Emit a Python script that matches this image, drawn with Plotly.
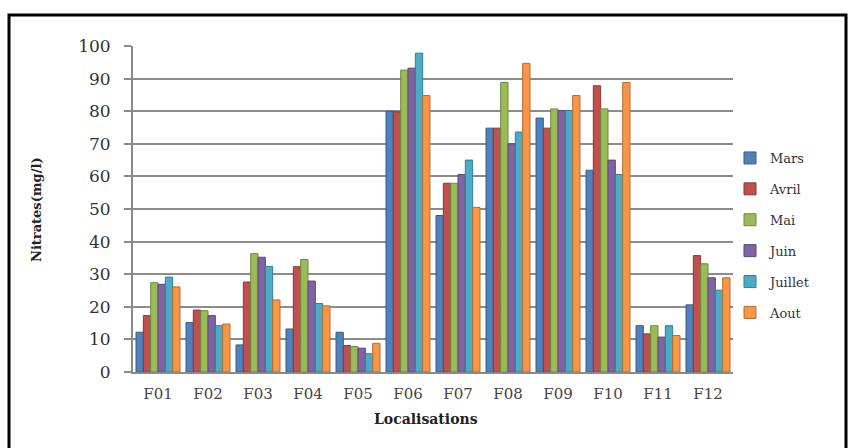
import plotly.graph_objects as go

# Nitrate concentration (mg/l) by sampling site and month
sites = ["F01", "F02", "F03", "F04", "F05", "F06", "F07", "F08", "F09", "F10", "F11", "F12"]

mars    = [12.2, 15.2, 8.3, 13.2, 12.2, 80.0, 48.0, 74.8, 77.9, 61.9, 14.2, 20.6]
avril   = [17.3, 19.0, 27.6, 32.3, 8.1, 79.8, 57.9, 74.8, 74.8, 87.8, 11.7, 35.7]
mai     = [27.4, 18.8, 36.3, 34.5, 7.8, 92.6, 57.9, 88.8, 80.7, 80.7, 14.2, 33.2]
juin    = [26.9, 17.3, 35.2, 27.9, 7.3, 93.2, 60.6, 70.0, 80.2, 65.0, 10.7, 28.9]
juillet = [29.1, 14.2, 32.4, 21.0, 5.6, 97.8, 65.0, 73.6, 80.2, 60.6, 14.2, 25.1]
aout    = [26.1, 14.7, 22.1, 20.3, 8.8, 84.8, 50.5, 94.7, 84.8, 88.8, 11.2, 28.9]

months = ["Mars", "Avril", "Mai", "Juin", "Juillet", "Aout"]
series = [mars, avril, mai, juin, juillet, aout]
fills = ["#4F81BD", "#C0504D", "#9BBB59", "#8064A2", "#4BACC6", "#F79646"]
edges = ["#385D8A", "#8C3836", "#71893F", "#5C4776", "#357D91", "#B66D31"]

serif = "DejaVu Serif"

fig = go.Figure()
for name, vals, fc, ec in zip(months, series, fills, edges):
    fig.add_trace(go.Bar(
        x=sites, y=vals, name=name,
        legendgroup=name,
        marker=dict(color=fc, line=dict(color=ec, width=1)),
    ))

# plot area: x 133..733 px, y 46..372 px
L, R, T, B = 133, 733, 46, 372
W, H = 848, 448


def px_x(p):
    return (p - L) / (R - L)


def px_y(p):
    return (B - p) / (B - T)


fig.update_layout(
    width=W, height=H,
    margin=dict(l=L, r=W - R, t=T, b=H - B, pad=0),
    paper_bgcolor="white",
    plot_bgcolor="white",
    barmode="group",
    bargap=0.12,
    bargroupgap=0,
    showlegend=True,
    legend=dict(
        x=px_x(730), y=px_y(143), xanchor="left", yanchor="top",
        font=dict(family=serif, size=13, color="#333333"),
        traceorder="grouped", tracegroupgap=11,
        itemwidth=30, bgcolor="rgba(0,0,0,0)",
    ),
    xaxis=dict(
        showgrid=False, showline=True, linecolor="#8a8a8a", linewidth=2,
        ticks="", tickfont=dict(family=serif, size=15, color="#444444"),
        ticklabelstandoff=7,
    ),
    yaxis=dict(
        range=[0, 100], dtick=10, showgrid=True, gridcolor="#8c8c8c", gridwidth=2,
        showline=True, linecolor="#8a8a8a", linewidth=2,
        ticks="outside", ticklen=7, tickcolor="#8a8a8a", tickwidth=1.5,
        tickfont=dict(family=serif, size=17, color="#333333"),
        ticklabelstandoff=10, zeroline=False,
    ),
    annotations=[
        dict(text="<b>Localisations</b>", xref="paper", yref="paper",
             x=px_x(426), y=px_y(419), xanchor="center", yanchor="middle",
             showarrow=False,
             font=dict(family=serif, size=14, color="#222222")),
        dict(text="<b>Nitrates(mg/l)</b>", xref="paper", yref="paper",
             x=px_x(36), y=px_y(210), xanchor="center", yanchor="middle",
             showarrow=False, textangle=-90,
             font=dict(family=serif, size=13, color="#222222")),
    ],
    shapes=[
        dict(type="rect", xref="paper", yref="paper",
             x0=px_x(9), x1=px_x(846), y0=px_y(470), y1=px_y(15),
             line=dict(color="black", width=3), fillcolor="rgba(0,0,0,0)",
             layer="above"),
    ],
)

fig.write_html("out.html")
